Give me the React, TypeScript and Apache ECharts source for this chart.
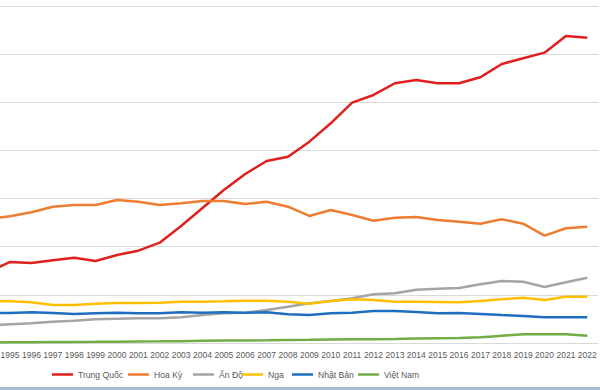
import React, { useEffect, useRef } from "react";
import * as echarts from "echarts";

const years = [
  "1994", "1995", "1996", "1997", "1998", "1999", "2000", "2001", "2002", "2003",
  "2004", "2005", "2006", "2007", "2008", "2009", "2010", "2011", "2012", "2013",
  "2014", "2015", "2016", "2017", "2018", "2019", "2020", "2021", "2022",
];

const trungQuoc = [
  2950, 3366, 3324, 3436, 3544, 3407, 3656, 3835, 4167, 4861,
  5609, 6357, 7022, 7562, 7741, 8364, 9128, 9984, 10304, 10790,
  10928, 10790, 10790, 11040, 11592, 11829, 12062, 12756, 12685,
];

const hoaKy = [
  5152, 5264, 5431, 5663, 5734, 5734, 5942, 5871, 5734, 5804,
  5900, 5900, 5775, 5871, 5663, 5277, 5526, 5318, 5082, 5206,
  5235, 5111, 5040, 4957, 5140, 4957, 4458, 4766, 4832,
];

const anDo = [
  727, 777, 818, 885, 927, 985, 1010, 1026, 1026, 1068,
  1163, 1234, 1259, 1371, 1508, 1650, 1745, 1857, 2023, 2065,
  2215, 2256, 2285, 2439, 2576, 2547, 2327, 2522, 2713,
];

const nga = [
  1733, 1733, 1691, 1579, 1579, 1633, 1662, 1662, 1674, 1716,
  1716, 1733, 1758, 1758, 1716, 1633, 1745, 1816, 1787, 1716,
  1716, 1704, 1691, 1745, 1816, 1882, 1787, 1924, 1924,
];

const nhatBan = [
  1247, 1247, 1276, 1247, 1205, 1234, 1259, 1234, 1234, 1276,
  1259, 1276, 1259, 1276, 1192, 1163, 1234, 1259, 1330, 1330,
  1288, 1234, 1247, 1205, 1163, 1122, 1068, 1068, 1068,
];

const vietNam = [
  25, 30, 35, 40, 45, 48, 55, 62, 68, 75,
  90, 100, 105, 112, 125, 135, 150, 160, 160, 165,
  185, 200, 210, 235, 300, 360, 360, 360, 305,
];

const seriesNames = ["Trung Quốc", "Hoa Kỳ", "Ấn Độ", "Nga", "Nhật Bản", "Việt Nam"];
const seriesData = [trungQuoc, hoaKy, anDo, nga, nhatBan, vietNam];
const seriesColors = ["#E0201F", "#ED7D31", "#A5A5A5", "#FFC000", "#1F6EBF", "#70AD47"];
const legendLefts = [52, 128, 193, 242, 292, 358];

const OFFSET = 22;

export default function App() {
  const ref = useRef<HTMLDivElement>(null);

  useEffect(() => {
    if (!ref.current) return;
    const chart = echarts.init(ref.current, undefined, { renderer: "svg" });
    const font = "Liberation Sans, Arial, sans-serif";
    chart.setOption({
      animation: false,
      backgroundColor: "#FFFFFF",
      grid: { left: 0, right: 2, top: 6, bottom: 47, containLabel: false },
      xAxis: {
        type: "category",
        data: years,
        boundaryGap: true,
        axisLine: { show: true, lineStyle: { color: "#D9D9D9", width: 1 } },
        axisTick: { show: false },
        axisLabel: {
          interval: 0,
          fontSize: 8.5,
          color: "#595959",
          fontFamily: font,
          margin: 7,
          formatter: (v: string) => (v === "1994" ? "" : v),
        },
      },
      yAxis: {
        type: "value",
        min: 0,
        max: 14000,
        interval: 2000,
        axisLabel: { show: false },
        axisLine: { show: false },
        axisTick: { show: false },
        splitLine: { lineStyle: { color: "#D9D9D9", width: 1 } },
      },
      legend: seriesNames.map((name, i) => ({
        left: legendLefts[i] + OFFSET,
        top: 370,
        padding: 0,
        icon: "rect",
        itemWidth: 21,
        itemHeight: 2.5,
        textStyle: { fontSize: 8.6, color: "#595959", fontFamily: font },
        data: [name],
      })),
      graphic: [
        {
          type: "rect",
          left: 0,
          top: 387,
          shape: { width: 600 + OFFSET, height: 3 },
          style: { fill: "#A9BCD6" },
        },
      ],
      series: seriesNames.map((name, i) => ({
        name,
        type: "line",
        data: seriesData[i],
        symbol: "none",
        smooth: false,
        color: seriesColors[i],
        itemStyle: { color: seriesColors[i] },
        lineStyle: { color: seriesColors[i], width: 2.5 },
      })),
    });
    return () => chart.dispose();
  }, []);

  return (
    <div
      ref={ref}
      style={{
        position: "fixed",
        left: -OFFSET,
        top: 0,
        width: 600 + OFFSET,
        height: 390,
      }}
    />
  );
}
